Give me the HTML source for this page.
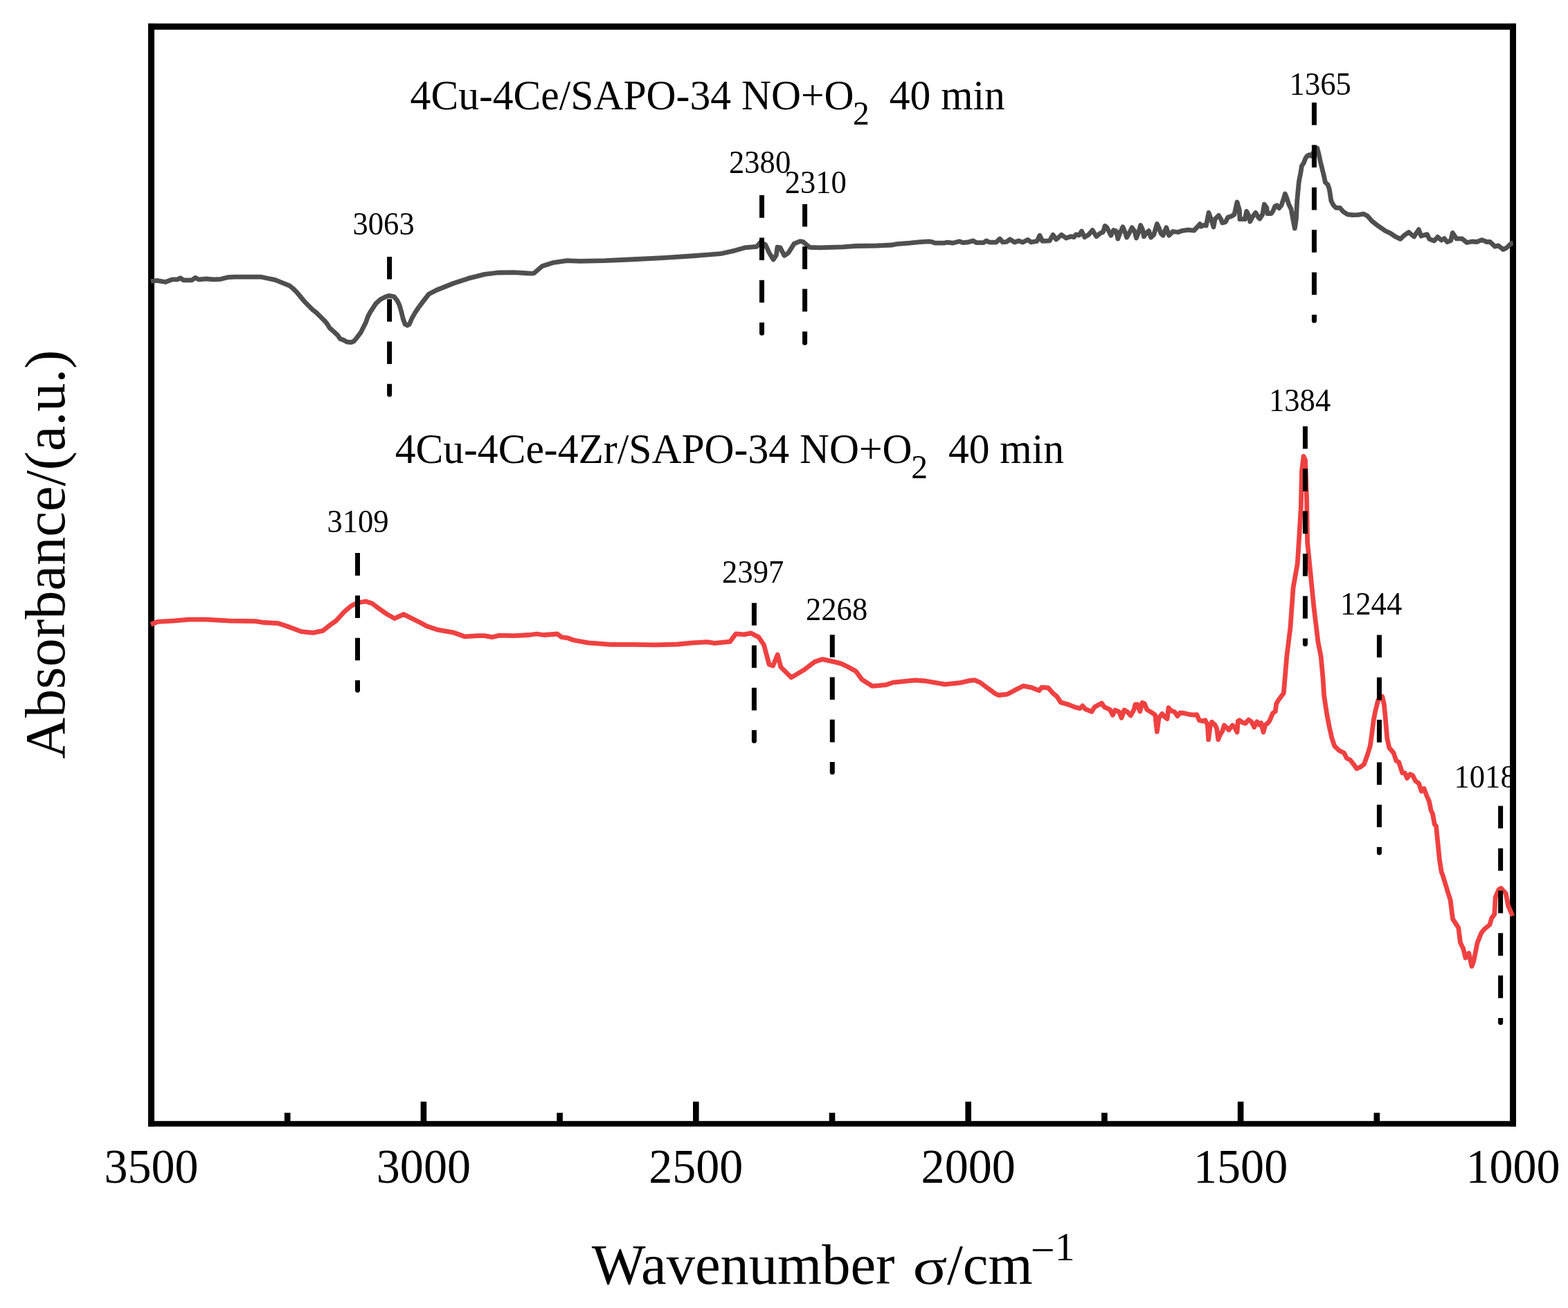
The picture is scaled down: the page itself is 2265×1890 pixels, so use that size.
<!DOCTYPE html>
<html><head><meta charset="utf-8"><title>FTIR spectra</title>
<style>
html,body{margin:0;padding:0;background:#fff;}
body{width:2265px;height:1890px;overflow:hidden;}
svg{display:block;}
svg text{font-family:"Liberation Serif","Times New Roman",serif;fill:#000;}
</style></head>
<body>
<svg width="2265" height="1890" viewBox="0 0 2265 1890">
<rect x="0" y="0" width="2265" height="1890" fill="#fff"/>
<text transform="translate(509.5 338.6) scale(1 1.025)" font-size="44.6">3063</text>
<text transform="translate(1053 249.6) scale(1 1.025)" font-size="44.6">2380</text>
<text transform="translate(1133.7 278.6) scale(1 1.025)" font-size="44.6">2310</text>
<text transform="translate(1862.6 136.9) scale(1 1.025)" font-size="44.6">1365</text>
<text transform="translate(472.4 768.6) scale(1 1.025)" font-size="44.6">3109</text>
<text transform="translate(1043.1 841.6) scale(1 1.025)" font-size="44.6">2397</text>
<text transform="translate(1164 896) scale(1 1.025)" font-size="44.6">2268</text>
<text transform="translate(1833 593.8) scale(1 1.025)" font-size="44.6">1384</text>
<text transform="translate(1936 887.6) scale(1 1.025)" font-size="44.6">1244</text>
<text transform="translate(2100.5 1138.3) scale(1 1.025)" font-size="44.6">1018</text>
<rect x="214" y="33.9" width="1976" height="9" fill="#000"/>
<rect x="214" y="1619.8" width="1976" height="8" fill="#000"/>
<rect x="214" y="33.9" width="9" height="1594" fill="#000"/>
<rect x="2181" y="33.9" width="9" height="1594" fill="#000"/>
<rect x="607.6" y="1591.8" width="8.6" height="29" fill="#000"/>
<rect x="1001" y="1591.8" width="8.6" height="29" fill="#000"/>
<rect x="1394.4" y="1591.8" width="8.6" height="29" fill="#000"/>
<rect x="1787.8" y="1591.8" width="8.6" height="29" fill="#000"/>
<rect x="410.9" y="1607.9" width="8.6" height="13" fill="#000"/>
<rect x="804.3" y="1607.9" width="8.6" height="13" fill="#000"/>
<rect x="1197.7" y="1607.9" width="8.6" height="13" fill="#000"/>
<rect x="1591.1" y="1607.9" width="8.6" height="13" fill="#000"/>
<rect x="1984.5" y="1607.9" width="8.6" height="13" fill="#000"/>
<polyline points="218,406.5 226.6,405.4 239.1,407.5 248.6,403.9 255.9,403.9 260.6,401.8 265.3,404.9 276.9,404.9 282.1,401.2 287.3,403.9 297.8,402.8 308.3,403.9 318.8,403.3 329.2,400.7 339.7,400.2 360.7,400.2 377.4,400.2 386.9,402.3 397.3,404.4 407.8,408.6 418.3,412.8 423.4,417 428.6,422.1 434.3,429 440,435.9 445.7,441.6 451.4,447.3 457.1,451.9 462.9,457.6 468.6,463.3 472.6,467.9 476,473.6 481.7,478.7 487.4,483.9 491.4,489.6 496,491.3 501.1,494.1 507.4,494.7 511.4,492.9 516,487.3 521.1,480.4 525.1,472.4 528.6,465.6 531.4,457.6 534.3,451.9 537.7,446.7 542.8,438.8 549.7,432.5 557.7,428.5 562.2,427.4 569.1,428.5 573.7,434.2 577.1,441.1 579.4,449.1 582.2,460.5 585.1,468.5 588.5,470.2 591.3,468.5 595.3,459.4 599.9,451.4 604.5,444.5 611.3,435.4 619.3,425.1 631,419 654.8,409.5 676.2,402.4 700,396.4 719,394 742.9,393.6 766.7,395.2 771.4,394.8 783.3,384.5 800,379.3 819,376.7 838,377.4 873.8,376.7 909.5,375 957,372.6 1004.8,369.5 1040.5,366.7 1061.4,362.1 1075.7,357.9 1092.9,356.4 1098.6,350 1105.7,353.6 1111.4,365.7 1117.1,375 1121.4,368.6 1122.9,357.1 1127.1,357.9 1132.9,369.3 1138.6,365.7 1147.1,352.1 1155.7,348.6 1160,349.3 1169.5,357.4 1183.8,357.9 1217.1,356.9 1236.2,355.5 1266.7,355 1288.6,354 1295.2,352.6 1314.3,351.2 1326.7,349.9 1341,348.8 1345.7,349.3 1350.5,351.2 1363.8,351.2 1367.6,350.2 1372.4,350.7 1376.2,351.2 1385.7,348.8 1391.4,350.7 1398.1,350 1405.7,347.9 1410.5,350.7 1421,350.5 1424.8,347.9 1429.5,350.2 1439,350 1444.3,345 1448.6,350 1454.3,349.3 1459,345.8 1465.7,350.2 1471.4,347.9 1477.1,350.2 1484.8,346.4 1489.5,350 1498.1,348.3 1501.9,340.2 1505.7,348.3 1516.2,347.9 1521,339.3 1525.7,346 1533.3,339.3 1540,344 1546.7,341.7 1551.4,342.6 1554.3,338.8 1559,339.8 1562.4,334 1566.7,342.6 1572.4,339.3 1578.1,332.6 1583.8,341.7 1589.5,336.9 1593.3,335.5 1596.2,326.4 1599,328.8 1604.8,340.2 1608.6,332.6 1612.4,334 1614.8,345 1618.1,336.4 1621.9,327.9 1624.8,334.5 1627.6,343.1 1631.4,336.4 1635.2,328.8 1639,334.5 1641.4,344 1644.8,335.5 1647.6,325.5 1650.5,331.7 1652.4,341.7 1656.2,336.4 1659.5,333.6 1662.4,343.1 1666.7,339.3 1671.4,323.6 1674.3,329.8 1677.1,337.4 1680,340.2 1684.8,328.8 1688.6,340.2 1694.3,334.5 1701.9,335.5 1706.7,333.6 1716.2,332.1 1724.8,333.1 1730.5,326.9 1733.3,323.6 1735,327.3 1739,325.3 1742.3,326 1746,307.3 1750.3,319.3 1753,328 1755,316.7 1760.3,311.3 1763.7,316.7 1765.7,322 1770.3,320.7 1773.7,314 1778.3,312.7 1783,310 1787,292 1790.3,303.3 1791,316.7 1795,316.7 1798.3,316.7 1800.7,305.3 1804.3,312.7 1805.7,320 1809.7,312.7 1813.7,307.3 1817.7,314 1819.7,316 1823.7,310 1826.3,295.3 1829.7,300 1831,308.7 1836.3,308.7 1839,304.7 1841.7,298 1844.3,296.7 1847.7,300.7 1851,296.7 1854.3,286.7 1856.3,280 1858.3,284.7 1861.7,295.3 1865,302 1867.7,316.7 1870.3,330 1872.3,316.7 1873.7,290 1874.3,284 1874.8,277.9 1876.4,261.9 1878.8,250 1880.4,239.6 1883.2,235.6 1886,228.4 1888.4,225.2 1891.2,223.6 1894,225.2 1898.8,218 1902.8,214 1905.2,223.6 1907.6,234.8 1910,244.4 1912.4,254 1914.4,263.5 1918,266.7 1920.4,273.9 1922.8,289.9 1926,296.3 1930,300.3 1935.5,300.3 1940.3,305.9 1946.7,309.9 1953.9,310.7 1961.9,310.3 1969.9,309.1 1975.5,312.3 1981.9,319.5 1989.9,325.9 1994.7,329.1 2001,333.5 2008.6,337.1 2015.1,341.6 2022.9,345.4 2028,340.3 2034.9,335.6 2042.6,342 2049.4,331.7 2052.8,341.1 2061.4,338.6 2064.8,345.4 2071.7,348 2076.8,342.4 2082,347.1 2086.3,344.6 2090.5,349.7 2095.7,347.6 2098.3,336.4 2103.8,344.8 2111.9,344.8 2119,350.5 2126.2,349 2133.3,349.5 2140.5,346.7 2147.6,349.5 2152.4,349.5 2159.5,356.2 2164.3,354.8 2171.4,360.5 2176.2,358.1 2183.3,351.4 2185.7,351" fill="none" stroke="#4f4f4f" stroke-width="6.8" stroke-linejoin="round" stroke-linecap="butt"/>
<polyline points="218,902.2 228.3,898.3 249.7,897.1 273.5,895.2 297.3,895.2 333,897.1 368.8,897.6 380.7,899.5 402.1,900.7 416.4,905.5 435.4,912.6 452.1,914.3 466.4,911.4 475.9,903.8 485.4,897.1 497.3,884 506.9,875.7 516.4,871 528.3,869 537.8,872.1 547.3,879.3 559.2,887.6 570,893.6 583,887.6 595,893.6 606.9,899.5 616.4,904.8 633,910.2 654.5,913.8 671.1,919.8 690.2,918.6 700,918.6 710.7,920.7 721.4,918.1 742.9,918.6 764.3,917.5 775,916 785.7,917.5 805,916 811.4,920.7 820,921.8 828.6,925 850,928.9 860.7,929.7 882.1,931.4 914.3,931.4 946.4,931.9 978.6,931 1000,928.9 1021.4,927.6 1032.1,929.3 1054.5,927.1 1063,915.8 1075,916.9 1084.6,914.9 1095.9,920.6 1103.5,931.9 1111,960.1 1116.6,962 1123.2,946 1127.9,963.9 1143,978.9 1152.4,973.3 1161.9,967.6 1176.9,956.3 1188.2,952.6 1204.3,956.1 1215,958.9 1225.7,964 1236.4,970 1245,981.8 1260,991.4 1279.3,989.7 1290,986.1 1322.1,982.9 1337.1,984 1365,988.9 1386.4,986.7 1400,983.6 1407.6,982.6 1416.2,986.4 1423.8,992.1 1430.5,996.9 1438.1,1002.6 1442.9,1004.5 1455.2,1003.1 1466.7,996.9 1478.1,991.2 1490.5,993.6 1501,997.9 1504.8,993.1 1514.3,994 1521,1001.7 1526.7,1006.4 1532.4,1015 1542.9,1017.9 1552.4,1021.7 1560,1023.6 1563.8,1019.8 1567.6,1024.5 1577.1,1028.3 1581,1021.7 1591.4,1016 1595.2,1021.7 1603.3,1025.3 1607.3,1033.3 1610.7,1026 1616.7,1028.7 1620,1037.3 1624,1026 1628.7,1028.7 1633.3,1034 1638,1025.3 1640,1018 1643.3,1018 1646.7,1028 1650,1015.3 1653.3,1016.7 1656.7,1025.3 1663.3,1029.3 1668.7,1033.3 1671.3,1057.3 1674,1037.3 1678.7,1031.3 1682,1035.3 1686,1038.7 1688,1022.7 1691.3,1026.7 1696.7,1028.7 1700.7,1034.7 1704.7,1030 1711.3,1030.7 1720,1032.7 1725,1033 1729,1032.7 1732.3,1040.7 1737,1042 1741,1040.7 1744.3,1047.3 1745.7,1068.7 1748,1050 1750.3,1043.3 1755,1047.3 1757.7,1052.7 1759.7,1068.7 1762.3,1062 1765.7,1056.7 1768.3,1048 1771.7,1051.3 1775,1054.7 1780.3,1048 1783.7,1051.3 1787,1058 1788.3,1042 1790.3,1040.7 1795,1044 1799,1045.3 1803.7,1040 1807.7,1042.7 1811.7,1050.7 1815.7,1042.7 1819,1047.3 1821.7,1044.7 1825,1058 1827.7,1047.3 1831.7,1044.7 1834.3,1040.7 1838.3,1030.7 1842.3,1028 1843.7,1016.7 1847,1011.3 1854.3,1001.4 1858.8,948.3 1863.9,907.2 1868,849.7 1874.2,814.7 1876.2,783.9 1879.3,732.5 1880.4,681.1 1883,659.5 1885.5,664.7 1887.6,722.2 1888.6,783.9 1892.7,825 1897.8,876.4 1904,927.8 1908.1,948.3 1911,980 1912.6,1005.1 1916.4,1030.2 1920.2,1050.3 1923.9,1066.6 1927.7,1077.9 1934,1084.2 1941.5,1088 1945.3,1095.5 1950.3,1098 1955.3,1104.3 1959.7,1110.6 1965.4,1108.1 1970.4,1104.3 1975.4,1090.5 1979.2,1077.9 1981.7,1060.4 1984.2,1040.3 1986.7,1027.7 1990.5,1012.6 1993.6,1007 1996.8,1006.4 1999.3,1017.7 2001.2,1036.5 2003.7,1066.6 2006.8,1080.5 2013.1,1088 2016.9,1099.3 2020.6,1101.2 2025.7,1116.9 2029.4,1116.9 2032.6,1124.4 2037,1118.7 2040.7,1120.6 2044.5,1128.2 2049.5,1131.9 2053.3,1143.2 2057,1139.5 2060.8,1149.5 2064.6,1158.3 2067.1,1170.9 2069.6,1175.9 2072.1,1190.9 2074.5,1193.7 2076.6,1214.2 2079.3,1241.6 2082.1,1259.5 2084.1,1264.9 2087.5,1275.9 2091.6,1289.6 2095.1,1300.5 2098.5,1327.9 2106.7,1340.3 2109.5,1362.2 2113.6,1370.4 2117,1384.1 2121.8,1377.3 2125.9,1396.4 2128.6,1389.6 2134.1,1362.2 2139.6,1348.5 2143.7,1343 2151.9,1336.2 2154.7,1326.6 2158.8,1321.1 2160.1,1296.4 2164.9,1285.5 2168.4,1283.4 2175.2,1291 2178.6,1308.8 2185,1323.5" fill="none" stroke="#ef4141" stroke-width="6.8" stroke-linejoin="round" stroke-linecap="butt"/>
<line x1="562.6" y1="370.9" x2="562.6" y2="570" stroke="#000" stroke-width="7.0" stroke-dasharray="32.6 28.7"/>
<circle cx="562.6" cy="570" r="3.5" fill="#000"/>
<line x1="1100.5" y1="282.1" x2="1100.5" y2="481.2" stroke="#000" stroke-width="7.0" stroke-dasharray="32.6 28.7"/>
<circle cx="1100.5" cy="481.2" r="3.5" fill="#000"/>
<line x1="1162.6" y1="295" x2="1162.6" y2="495.2" stroke="#000" stroke-width="7.0" stroke-dasharray="32.6 28.7"/>
<circle cx="1162.6" cy="495.2" r="3.5" fill="#000"/>
<line x1="1898.4" y1="148.2" x2="1898.4" y2="463.2" stroke="#000" stroke-width="7.0" stroke-dasharray="32.6 28.7"/>
<circle cx="1898.4" cy="463.2" r="3.5" fill="#000"/>
<line x1="516.5" y1="799.1" x2="516.5" y2="997.2" stroke="#000" stroke-width="7.0" stroke-dasharray="32.6 28.7"/>
<circle cx="516.5" cy="997.2" r="3.5" fill="#000"/>
<line x1="1089.4" y1="871.2" x2="1089.4" y2="1070.6" stroke="#000" stroke-width="7.0" stroke-dasharray="32.6 28.7"/>
<circle cx="1089.4" cy="1070.6" r="3.5" fill="#000"/>
<line x1="1202.3" y1="917.2" x2="1202.3" y2="1115.8" stroke="#000" stroke-width="7.0" stroke-dasharray="32.6 28.7"/>
<circle cx="1202.3" cy="1115.8" r="3.5" fill="#000"/>
<line x1="1885.4" y1="616" x2="1885.4" y2="930.5" stroke="#000" stroke-width="7.0" stroke-dasharray="32.6 28.7"/>
<circle cx="1885.4" cy="930.5" r="3.5" fill="#000"/>
<line x1="1992.4" y1="917.5" x2="1992.4" y2="1232" stroke="#000" stroke-width="7.0" stroke-dasharray="32.6 28.7"/>
<circle cx="1992.4" cy="1232" r="3.5" fill="#000"/>
<line x1="2167.6" y1="1164.4" x2="2167.6" y2="1477.5" stroke="#000" stroke-width="7.0" stroke-dasharray="32.6 28.7"/>
<circle cx="2167.6" cy="1477.5" r="3.5" fill="#000"/>
<text transform="translate(218.5 1709) scale(1 1.025)" font-size="68.1" text-anchor="middle">3500</text>
<text transform="translate(611.9 1709) scale(1 1.025)" font-size="68.1" text-anchor="middle">3000</text>
<text transform="translate(1005.3 1709) scale(1 1.025)" font-size="68.1" text-anchor="middle">2500</text>
<text transform="translate(1398.7 1709) scale(1 1.025)" font-size="68.1" text-anchor="middle">2000</text>
<text transform="translate(1792.1 1709) scale(1 1.025)" font-size="68.1" text-anchor="middle">1500</text>
<text transform="translate(2185.5 1709) scale(1 1.025)" font-size="68.1" text-anchor="middle">1000</text>
<text transform="translate(592.6 157.8) scale(1 1.025)" font-size="59.6">4Cu-4Ce/SAPO-34 NO+O</text>
<text transform="translate(1231.9 179.9) scale(1 1.025)" font-size="47.6">2</text>
<text transform="translate(1284.7 157.8) scale(1 1.025)" font-size="59.6">40 min</text>
<text transform="translate(570.7 668.9) scale(1 1.025)" font-size="59.6">4Cu-4Ce-4Zr/SAPO-34 NO+O</text>
<text transform="translate(1316.3 691.3) scale(1 1.025)" font-size="47.6">2</text>
<text transform="translate(1369.9 668.9) scale(1 1.025)" font-size="59.6">40 min</text>
<text x="854.8" y="1855.3" font-size="82.5">Wavenumber</text>
<text transform="translate(1318.5 1855.3) scale(1.125 0.886)" font-size="82.5">&#963;</text>
<text x="1367.9" y="1855.3" font-size="82.5">/cm</text>
<text x="1488.8" y="1827.1" font-size="62">&#8722;</text>
<text x="1523.8" y="1821" font-size="57.7">1</text>
<text transform="translate(93.3 1096.5) rotate(-90)" font-size="82.5">Absorbance/(a.u.)</text>
</svg>
</body></html>
